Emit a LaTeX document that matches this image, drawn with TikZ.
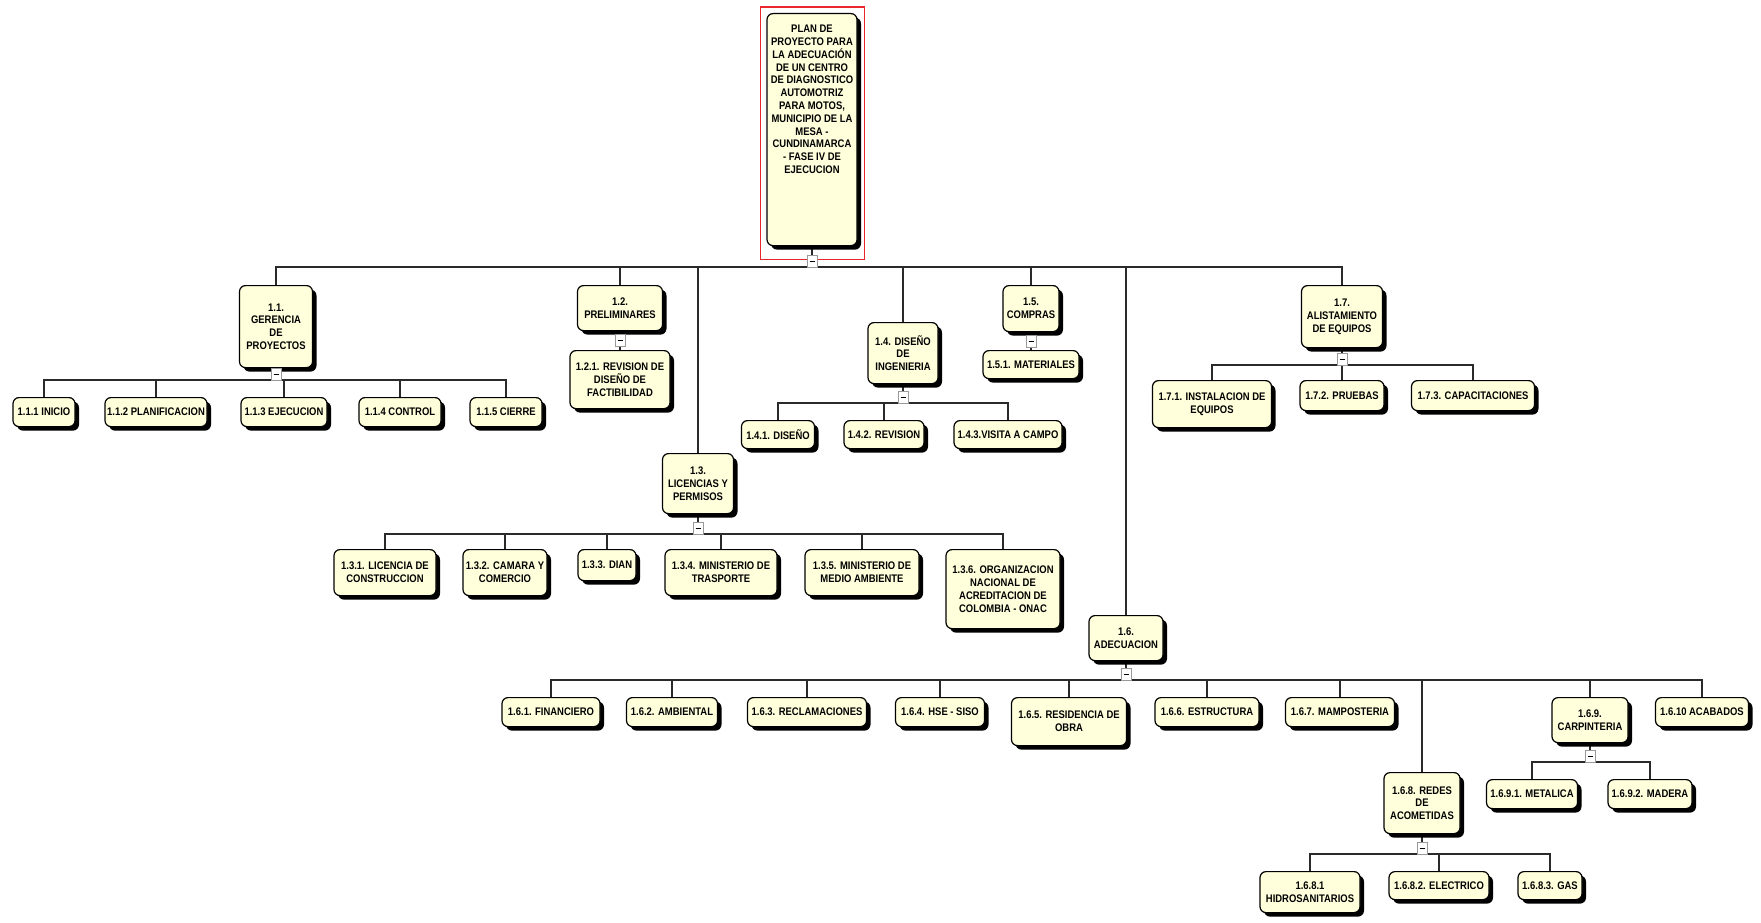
\documentclass[tikz,border=0pt]{standalone}
\usepackage{fontspec}
\newfontfamily\wbsfont{Liberation Sans}[FakeStretch=0.86]
\usepackage{tikz}
\usetikzlibrary{positioning,shadows,backgrounds}
\definecolor{wbscream}{HTML}{FFFFDC}
\definecolor{wbsred}{HTML}{E8262B}
\definecolor{wbsline}{HTML}{2A2A2A}

\begin{document}
\begin{tikzpicture}[x=1pt,y=-1pt,
  font=\wbsfont\bfseries\fontsize{11}{12.8}\selectfont,
  box/.style={draw=black,line width=1.2pt,fill=wbscream,rounded corners=6pt,align=center,inner sep=2pt,anchor=north,
    drop shadow={fill=black,opacity=1,shadow xshift=4pt,shadow yshift=-4pt}},
  sz/.style 2 args={minimum width=#1,minimum height=#2},
  tog/.style={draw=black!40,fill=white,line width=0.6pt,minimum width=10pt,minimum height=12pt,inner sep=0pt,anchor=south},
  link/.style={draw=wbsline,line width=1.1pt},
  sel/.style={draw=wbsred,line width=1.4pt}]
  \begin{scope}[on background layer]
    \fill[white] (0,0) rectangle (1761,923);
  \end{scope}
  \useasboundingbox (0,0) rectangle (1761,923);
  % root
  \node[box,sz={90}{232}] (root) at (812,13) {};
  \node[anchor=north,align=center,inner sep=0pt] (rootlbl) at (812,25) {PLAN DE\\PROYECTO PARA\\LA ADECUACIÓN\\DE UN CENTRO\\DE DIAGNOSTICO\\AUTOMOTRIZ\\PARA MOTOS,\\MUNICIPIO DE LA\\MESA -\\CUNDINAMARCA\\- FASE IV DE\\EJECUCION};
  \draw[sel] ([shift={(-6,-6)}]root.north west) rectangle ([shift={(7,13)}]root.south east);
  \node[tog] (troot) at (812,268) {\rule{5pt}{1.5pt}};
  % level 1
  \node[box,sz={73}{82}] (n11) at (276,285) {1.1.\\GERENCIA\\DE\\PROYECTOS};
  \node[box,sz={85}{45}] (n12) at (620,285) {1.2.\\PRELIMINARES};
  \node[box,sz={71}{60}] (n13) at (698,453) {1.3.\\LICENCIAS Y\\PERMISOS};
  \node[box,sz={70}{61}] (n14) at (903,322) {1.4. DISEÑO\\DE\\INGENIERIA};
  \node[box,sz={56}{46}] (n15) at (1031,285) {1.5.\\COMPRAS};
  \node[box,sz={74}{45}] (n16) at (1126,615) {1.6.\\ADECUACION};
  \node[box,sz={81}{62}] (n17) at (1342,285) {1.7.\\ALISTAMIENTO\\DE EQUIPOS};
  \node[tog] (t11) at (276,381) {\rule{5pt}{1.5pt}};
  \node[tog] (t12) at (620,347) {\rule{5pt}{1.5pt}};
  \node[tog] (t13) at (698,535) {\rule{5pt}{1.5pt}};
  \node[tog] (t14) at (903,404) {\rule{5pt}{1.5pt}};
  \node[tog] (t15) at (1031,348) {\rule{5pt}{1.5pt}};
  \node[tog] (t16) at (1126,681) {\rule{5pt}{1.5pt}};
  \node[tog] (t17) at (1342,366) {\rule{5pt}{1.5pt}};
  % 1.1
  \node[box,sz={62}{29}] (n111) at (44,397) {1.1.1 INICIO};
  \node[box,sz={102}{29}] (n112) at (156,397) {1.1.2 PLANIFICACION};
  \node[box,sz={86}{29}] (n113) at (284,397) {1.1.3 EJECUCION};
  \node[box,sz={82}{29}] (n114) at (400,397) {1.1.4 CONTROL};
  \node[box,sz={72}{29}] (n115) at (506,397) {1.1.5 CIERRE};
  % 1.2
  \node[box,sz={100}{58}] (n121) at (620,350) {1.2.1. REVISION DE\\DISEÑO DE\\FACTIBILIDAD};
  % 1.3
  \node[box,sz={102}{46}] (n131) at (385,549) {1.3.1. LICENCIA DE\\CONSTRUCCION};
  \node[box,sz={84}{46}] (n132) at (505,549) {1.3.2. CAMARA Y\\COMERCIO};
  \node[box,sz={58}{31}] (n133) at (607,549) {1.3.3. DIAN};
  \node[box,sz={112}{46}] (n134) at (721,549) {1.3.4. MINISTERIO DE\\TRASPORTE};
  \node[box,sz={114}{46}] (n135) at (862,549) {1.3.5. MINISTERIO DE\\MEDIO AMBIENTE};
  \node[box,sz={114}{79}] (n136) at (1003,549) {1.3.6. ORGANIZACION\\NACIONAL DE\\ACREDITACION DE\\COLOMBIA - ONAC};
  % 1.4 and 1.5
  \node[box,sz={73}{28}] (n141) at (778,420) {1.4.1. DISEÑO};
  \node[box,sz={80}{28}] (n142) at (884,420) {1.4.2. REVISION};
  \node[box,sz={108}{28}] (n143) at (1008,420) {1.4.3.VISITA A CAMPO};
  \node[box,sz={96}{28}] (n151) at (1031,350) {1.5.1. MATERIALES};
  % 1.6
  \node[box,sz={98}{29}] (n161) at (551,697) {1.6.1. FINANCIERO};
  \node[box,sz={91}{29}] (n162) at (672,697) {1.6.2. AMBIENTAL};
  \node[box,sz={119}{29}] (n163) at (807,697) {1.6.3. RECLAMACIONES};
  \node[box,sz={89}{29}] (n164) at (940,697) {1.6.4. HSE - SISO};
  \node[box,sz={115}{48}] (n165) at (1069,697) {1.6.5. RESIDENCIA DE\\OBRA};
  \node[box,sz={104}{29}] (n166) at (1207,697) {1.6.6. ESTRUCTURA};
  \node[box,sz={109}{29}] (n167) at (1340,697) {1.6.7. MAMPOSTERIA};
  \node[box,sz={76}{61}] (n168) at (1422,772) {1.6.8. REDES\\DE\\ACOMETIDAS};
  \node[box,sz={76}{45}] (n169) at (1590,697) {1.6.9.\\CARPINTERIA};
  \node[box,sz={93}{29}] (n1610) at (1702,697) {1.6.10 ACABADOS};
  \node[tog] (t168) at (1422,855) {\rule{5pt}{1.5pt}};
  \node[tog] (t169) at (1590,763) {\rule{5pt}{1.5pt}};
  \node[box,sz={100}{41}] (n1681) at (1310,871) {1.6.8.1\\HIDROSANITARIOS};
  \node[box,sz={100}{28}] (n1682) at (1439,871) {1.6.8.2. ELECTRICO};
  \node[box,sz={64}{28}] (n1683) at (1550,871) {1.6.8.3. GAS};
  \node[box,sz={91}{29}] (n1691) at (1532,779) {1.6.9.1. METALICA};
  \node[box,sz={84}{29}] (n1692) at (1650,779) {1.6.9.2. MADERA};
  % 1.7
  \node[box,sz={119}{47}] (n171) at (1212,380) {1.7.1. INSTALACION DE\\EQUIPOS};
  \node[box,sz={84}{30}] (n172) at (1342,380) {1.7.2. PRUEBAS};
  \node[box,sz={123}{30}] (n173) at (1473,380) {1.7.3. CAPACITACIONES};
  % connectors
  \begin{scope}[on background layer]
    \foreach \p/\t in {root/troot,n11/t11,n12/t12,n13/t13,n14/t14,n15/t15,n16/t16,n17/t17,n168/t168,n169/t169}
      \draw[link] (\p.south) -- (\t.north);
    \foreach \c in {n11,n12,n13,n14,n15,n16,n17} \draw[link] ([yshift=1pt]troot.south) -| (\c.north);
    \foreach \c in {n111,n112,n113,n114,n115} \draw[link] ([yshift=1pt]t11.south) -| (\c.north);
    \draw[link] (t12.south) -- (n121.north);
    \foreach \c in {n131,n132,n133,n134,n135,n136} \draw[link] ([yshift=1pt]t13.south) -| (\c.north);
    \foreach \c in {n141,n142,n143} \draw[link] ([yshift=1pt]t14.south) -| (\c.north);
    \draw[link] (t15.south) -- (n151.north);
    \foreach \c in {n161,n162,n163,n164,n165,n166,n167,n168,n169,n1610} \draw[link] ([yshift=1pt]t16.south) -| (\c.north);
    \foreach \c in {n1681,n1682,n1683} \draw[link] ([yshift=1pt]t168.south) -| (\c.north);
    \foreach \c in {n1691,n1692} \draw[link] ([yshift=1pt]t169.south) -| (\c.north);
    \foreach \c in {n171,n172,n173} \draw[link] ([yshift=1pt]t17.south) -| (\c.north);
  \end{scope}
\end{tikzpicture}
\end{document}
